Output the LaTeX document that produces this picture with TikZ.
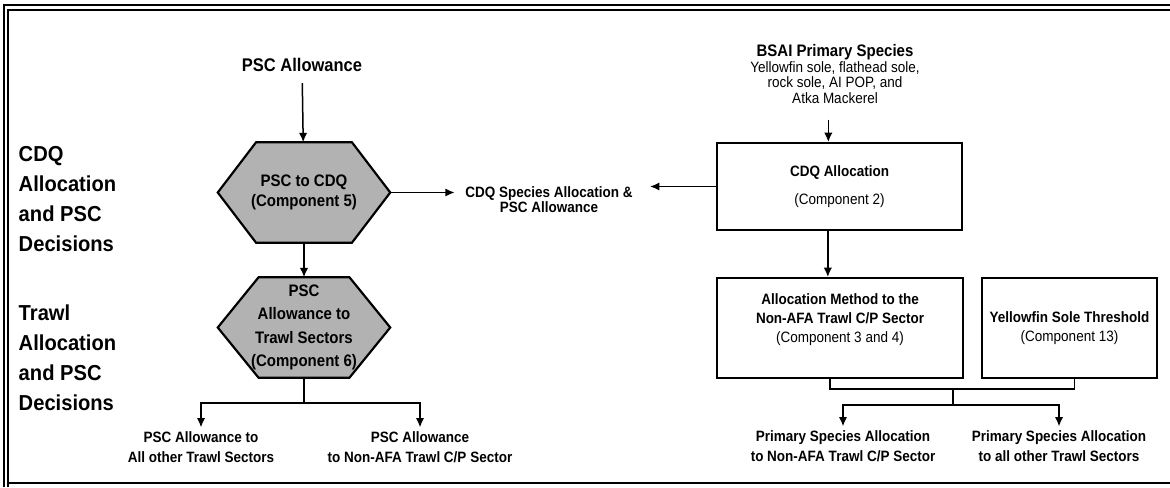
\documentclass[tikz,border=0pt]{standalone}
\usepackage{fontspec}
\setmainfont{Liberation Sans}
\newfontfamily\nf{Liberation Sans}[FakeStretch=0.9]
\newfontfamily\sidef{Liberation Sans}[FakeStretch=0.93]
\usetikzlibrary{arrows.meta,positioning,backgrounds}

% hexagon drawn round a node
\newcommand{\hexof}[2]{%
  \filldraw[hexline] (#1.west) -- ([xshift=#2]#1.north west)
    -- ([xshift=-#2]#1.north east) -- (#1.east)
    -- ([xshift=-#2]#1.south east) -- ([xshift=#2]#1.south west) -- cycle;}
\newcommand{\spcs}{\mdseries\fontsize{9}{9.5}\selectfont}

\begin{document}
\begin{tikzpicture}[x=0.6pt,y=-0.6pt,>={Latex[length=5.6pt,width=5pt]},
                    line width=0.9pt,font=\nf\bfseries]
  \tikzstyle{box}=[draw,line width=1.2pt,inner sep=0pt,align=center,
                   font=\nf\bfseries\fontsize{9}{11.5}\selectfont]
  \tikzstyle{hex}=[inner sep=0pt,align=center,minimum width=102.6pt,
                   minimum height=59.4pt]
  \tikzstyle{hexline}=[draw=black,fill=black!30,line width=1.3pt]
  \tikzstyle{lbl}=[align=center,inner sep=2pt,
                   font=\nf\bfseries\fontsize{9}{12}\selectfont]
  \tikzstyle{side}=[anchor=west,align=left,inner sep=0pt,
                    font=\sidef\bfseries\fontsize{13}{18}\selectfont]
  \tikzstyle{frame}=[line width=1.2pt]

  \useasboundingbox (0,0) rectangle (1170,487);

  \draw[frame] (4,487) -- (4,5) -- (1170,5);
  \draw[frame] (8,487) -- (8,10) -- (1170,10);
  \draw[frame] (8,483) -- (1170,483);

  \node[side] (s1) at (18,199) {CDQ\\Allocation\\and PSC\\Decisions};
  \node[side] (s2) at (18,358) {Trawl\\Allocation\\and PSC\\Decisions};

  \node (psc) at (302,65) [font=\nf\bfseries\fontsize{11}{13}\selectfont] {PSC Allowance};
  \node[hex,font=\nf\bfseries\fontsize{10}{12}\selectfont] (h1) at (304,192.5)
       {PSC to CDQ\\(Component 5)};
  \node[hex,font=\nf\bfseries\fontsize{10}{14}\selectfont] (h2) at (304,327.5)
       {PSC\\Allowance to\\Trawl Sectors\\(Component 6)};
  \node[lbl,font=\nf\bfseries\fontsize{9}{9}\selectfont] (cq) at (549,200)
       {CDQ Species Allocation \&\\PSC Allowance};

  \node[align=center,inner sep=0pt,font=\nf\bfseries\fontsize{10}{9.5}\selectfont] (bsai) at (835,74)
       {BSAI Primary Species\\\spcs Yellowfin sole, flathead sole,\\\spcs rock sole, AI POP, and\\\spcs Atka Mackerel};

  \node[box,minimum width=147pt,minimum height=52.2pt] (b1) at (839.5,186.5)
       {CDQ Allocation\\[5pt]\mdseries (Component 2)};
  \node[box,minimum width=147.6pt,minimum height=60pt] (b2) at (840,328)
       {Allocation Method to the\\Non-AFA Trawl C/P Sector\\\mdseries (Component 3 and 4)\\[-3pt]\strut};
  \node[box,minimum width=105pt,minimum height=60pt] (b3) at (1069.5,328)
       {Yellowfin Sole Threshold\\\mdseries (Component 13)};

  \node[lbl] (t1) at (201,447) {PSC Allowance to\\All other Trawl Sectors};
  \node[lbl] (t2) at (420,447) {PSC Allowance\\to Non-AFA Trawl C/P Sector};
  \node[lbl] (t3) at (843,446) {Primary Species Allocation\\to Non-AFA Trawl C/P Sector};
  \node[lbl] (t4) at (1059,446) {Primary Species Allocation\\to all other Trawl Sectors};

  \begin{scope}[on background layer]
    \hexof{h1}{23pt}
    \hexof{h2}{24.5pt}
  \end{scope}

  \path (psc) edge[->,shorten <=3pt] (h1)
        (h1)  edge[->] (h2);

  \draw[->] (h1.east) -- ([xshift=-4pt]h1.east -| cq.west);
  \draw[->] (b1.west) -- ([xshift=8pt]b1.west -| cq.east);
  \draw[->,shorten <=9pt] ([xshift=-4pt]bsai.south) -- ([xshift=-4pt]bsai.south |- b1.north);
  \draw[->] ([xshift=-7pt]b1.south) -- ([xshift=-7pt]b1.south |- b2.north);

  \coordinate (j1) at (304,403);
  \draw (h2.south) -- (j1);
  \draw[->] (j1) -| (t1.north);
  \draw[->] (j1) -| (t2.north);

  \coordinate (j2) at (953,389);
  \coordinate (j3) at (953,405);
  \draw ([xshift=-6pt]b2.south) |- (j2) -| ([xshift=3pt]b3.south);
  \draw (j2) -- (j3);
  \draw[->] (j3) -| (t3.north);
  \draw[->] (j3) -| (t4.north);
\end{tikzpicture}
\end{document}
